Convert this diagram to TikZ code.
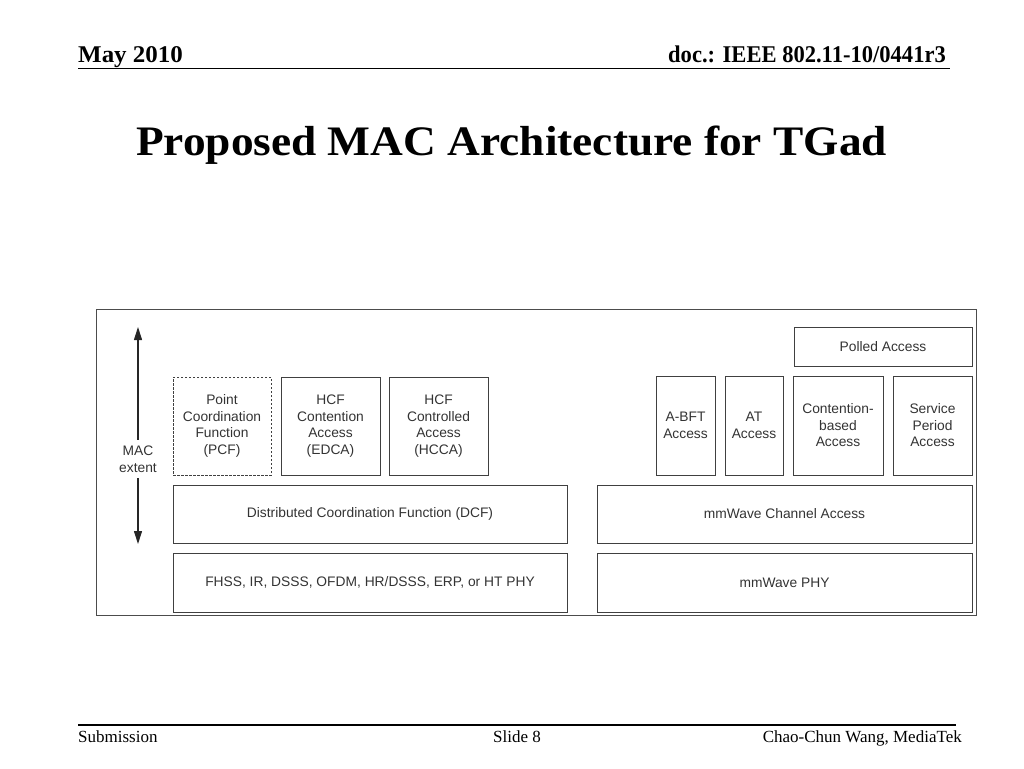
\documentclass[tikz,border=0pt]{standalone}
\usepackage{fontspec}
\setmainfont{Liberation Serif}
\newfontfamily\arialf{Liberation Sans}
\usetikzlibrary{arrows.meta}
\begin{document}
\begin{tikzpicture}[x=1pt,y=-1pt,
  box/.style={draw=black!75, line width=1pt, inner sep=0pt, align=center,
    font=\arialf\fontsize{13.8}{16.5}\selectfont, text=black!80},
  dbox/.style={box, dashed, dash pattern=on 2.5pt off 1.5pt},
  rule/.style={line width=1.3pt},
  hdr/.style={inner sep=0pt, font=\bfseries\fontsize{24}{28}\selectfont},
  ftr/.style={inner sep=0pt, font=\fontsize{17}{20}\selectfont},
  arr/.style={line width=1.1pt, -{Triangle[length=13pt,width=8pt]}}]
\useasboundingbox (0,0) rectangle (1024,768);
% header
\node[hdr, anchor=base west] (date) at (78,63) {\scalebox{1.04}[1]{May 2010}};
\node[hdr, anchor=base east] (doc) at (946,63) {\scalebox{0.94}[1]{doc.: IEEE 802.11-10/0441r3}};
\coordinate (hl) at (78,68.5);
\coordinate (hr) at (950,68.5);
\draw[rule] (hl) -- (hr);
% title
\node[inner sep=0pt, anchor=base, font=\bfseries\fontsize{42}{48}\selectfont] (title) at (511.5,155)
  {\scalebox{1.08}[1]{Proposed MAC Architecture for TGad}};
% footer
\coordinate (fl) at (78,725);
\coordinate (fr) at (956,725);
\draw[rule] (fl) -- (fr);
\node[ftr, anchor=base west] (sub) at (78,742) {Submission};
\node[ftr, anchor=base] (slide) at (517,742) {Slide 8};
\node[ftr, anchor=base east] (auth) at (962,742) {Chao-Chun Wang, MediaTek};
% frame
\node[draw=black!70, line width=1pt, minimum width=880pt, minimum height=306pt, inner sep=0pt] (frame) at (536.5,462) {};
% left stack
\node[dbox, minimum width=98pt, minimum height=98pt] (pcf) at (222,426) {Point\\Coordination\\Function\\(PCF)};
\node[box, minimum width=99pt, minimum height=98pt] (edca) at (330.5,426) {HCF\\Contention\\Access\\(EDCA)};
\node[box, minimum width=99pt, minimum height=98pt] (hcca) at (438.5,426) {HCF\\Controlled\\Access\\(HCCA)};
\node[box, minimum width=394pt, minimum height=58pt] (dcf) at (370,514) {Distributed Coordination Function (DCF)};
\node[box, minimum width=394pt, minimum height=59pt] (phy) at (370,582.5) {FHSS, IR, DSSS, OFDM, HR/DSSS, ERP, or HT PHY};
% right stack
\node[box, minimum width=178pt, minimum height=39pt] (polled) at (883,346.5) {Polled Access};
\node[box, minimum width=59pt, minimum height=99pt] (abft) at (685.5,425.5) {A-BFT\\Access};
\node[box, minimum width=58pt, minimum height=99pt] (at) at (754,425.5) {AT\\Access};
\node[box, minimum width=90pt, minimum height=99pt] (cba) at (838,425.5) {Contention-\\based\\Access};
\node[box, minimum width=79pt, minimum height=99pt] (spa) at (932.5,425.5) {Service\\Period\\Access};
\node[box, minimum width=375pt, minimum height=58pt] (mmca) at (784.5,514) {mmWave Channel Access};
\node[box, minimum width=375pt, minimum height=59pt] (mmphy) at (784.5,582.5) {mmWave PHY};
% MAC extent arrow
\node[inner xsep=2pt, inner ysep=6pt, align=center, font=\arialf\fontsize{13.8}{16.5}\selectfont, text=black!80] (mac) at (138,459) {MAC\\extent};
\coordinate (atop) at (138,327);
\coordinate (abot) at (138,544);
\draw[arr, black!85] (mac.north) -- (atop);
\draw[arr, black!85] (mac.south) -- (abot);
\end{tikzpicture}
\end{document}
